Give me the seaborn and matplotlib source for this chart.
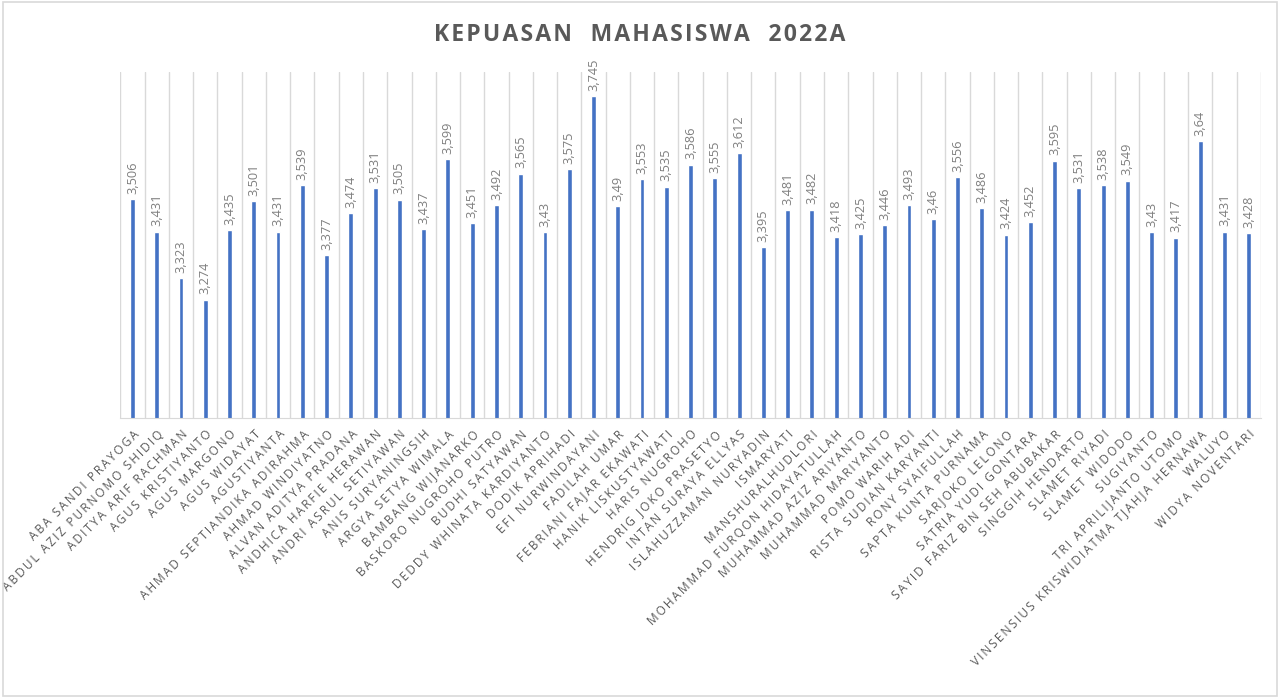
import numpy as np
import seaborn as sns
import matplotlib.pyplot as plt
from matplotlib.patches import Rectangle

names = [
    "ABA SANDI PRAYOGA", "ABDUL AZIZ PURNOMO SHIDIQ", "ADITYA ARIF RACHMAN",
    "AGUS KRISTIYANTO", "AGUS MARGONO", "AGUS WIDAYAT", "AGUSTIYANTA",
    "AHMAD SEPTIANDIKA ADIRAHMA", "AHMAD WINDIYATNO", "ALVAN ADITYA PRADANA",
    "ANDHICA HARFIE HERAWAN", "ANDRI ASRUL SETIYAWAN", "ANIS SURYANINGSIH",
    "ARGYA SETYA WIMALA", "BAMBANG WIJANARKO", "BASKORO NUGROHO PUTRO",
    "BUDHI SATYAWAN", "DEDDY WHINATA KARDIYANTO", "DODIK APRIHADI",
    "EFI NURWINDAYANI", "FADILAH UMAR", "FEBRIANI FAJAR EKAWATI",
    "HANIK LISKUSTYAWATI", "HARIS NUGROHO", "HENDRIG JOKO PRASETYO",
    "INTAN SURAYA ELLYAS", "ISLAHUZZAMAN NURYADIN", "ISMARYATI",
    "MANSHURALHUDLORI", "MOHAMMAD FURQON HIDAYATULLAH", "MUHAMMAD AZIZ ARIYANTO",
    "MUHAMMAD MARIYANTO", "POMO WARIH ADI", "RISTA SUDIAN KARYANTI",
    "RONY SYAIFULLAH", "SAPTA KUNTA PURNAMA", "SARJOKO LELONO",
    "SATRIA YUDI GONTARA", "SAYID FARIZ BIN SEH ABUBAKAR", "SINGGIH HENDARTO",
    "SLAMET RIYADI", "SLAMET WIDODO", "SUGIYANTO", "TRI APRILIJANTO UTOMO",
    "VINSENSIUS KRISWIDIATMA TJAHJA HERNAWA", "WALUYO", "WIDYA NOVENTARI",
]

scores = [
    3.506, 3.431, 3.323, 3.274, 3.435, 3.501, 3.431, 3.539, 3.377, 3.474,
    3.531, 3.505, 3.437, 3.599, 3.451, 3.492, 3.565, 3.43, 3.575, 3.745,
    3.49, 3.553, 3.535, 3.586, 3.555, 3.612, 3.395, 3.481, 3.482, 3.418,
    3.425, 3.446, 3.493, 3.46, 3.556, 3.486, 3.424, 3.452, 3.595, 3.531,
    3.538, 3.549, 3.43, 3.417, 3.64, 3.431, 3.428,
]

title = "KEPUASAN  MAHASISWA  2022A"

bar_color = "#4472C4"
text_color = "#595959"
label_color = "#7F7F7F"
grid_color = "#D9D9D9"


def spaced(s, gap="\u2009"):
    # poor man's letter spacing, excel draws these labels wide
    return gap.join(s)


sns.set_style("white")
plt.rcParams['font.family'] = ['Open Sans', 'DejaVu Sans']

fig = plt.figure(figsize=(12.8, 6.98), dpi=100)
ax = fig.add_axes([0.094, 0.401, 0.891, 0.496])

sns.barplot(x=names, y=scores, color=bar_color, width=0.2, saturation=1, ax=ax)

ax.set_xlim(-0.5, len(names) - 0.5)
ax.set_ylim(3.0, 3.8)

# data labels on top of each bar
for i, v in enumerate(scores):
    ax.text(i, v + 0.012, f"{v:g}".replace(".", ","), rotation=90,
            ha="center", va="bottom", fontsize=9.2, color=label_color)

# vertical gridlines between categories
ax.set_xticks(np.arange(-0.5, len(names)), minor=True)
ax.grid(True, which="minor", axis="x", color=grid_color, linewidth=1)
ax.grid(False, which="major")
ax.set_yticks([])
ax.tick_params(axis="x", which="both", length=0)
ax.set_xticks(range(len(names)))
ax.set_xticklabels([spaced(n) for n in names], rotation=45, ha="right",
                   rotation_mode="anchor", fontsize=8.6, color=text_color)
ax.tick_params(axis="x", pad=7)

for side in ["top", "left", "right"]:
    ax.spines[side].set_visible(False)
ax.spines["bottom"].set_color(grid_color)
ax.set_xlabel("")
ax.set_ylabel("")

fig.text(0.5, 0.95, spaced(title, "\u200a"), ha="center", va="center", fontsize=16.5,
         fontweight="bold", color=text_color)

# light frame around the chart area
fig.patches.append(Rectangle((0.002, 0.003), 0.996, 0.994, transform=fig.transFigure,
                             fill=False, edgecolor=grid_color, linewidth=1.2))

fig.savefig("out.png", dpi=100)
